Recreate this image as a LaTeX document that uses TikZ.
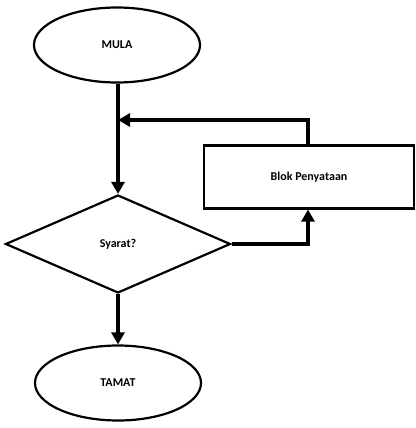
\documentclass[tikz,border=0pt]{standalone}
\usepackage{fontspec}
\setmainfont{Carlito}
\usetikzlibrary{shapes.geometric,arrows.meta}
\begin{document}
\begin{tikzpicture}[x=1pt,y=-1pt,
  every node/.style={font=\fontsize{12}{14}\selectfont\bfseries},
  term/.style={draw,line width=2.2pt,ellipse,minimum width=166pt,minimum height=75pt,inner sep=0pt},
  dec/.style={draw,line width=2.2pt,diamond,minimum width=225pt,minimum height=98pt,aspect=2.3,inner sep=0pt},
  blk/.style={draw,line width=2.2pt,rectangle,minimum width=210pt,minimum height=63pt,inner sep=0pt},
  conn/.style={line width=4pt,-{Triangle[length=12pt,width=13pt]}},
  plain/.style={line width=4pt}]
\useasboundingbox (0,0) rectangle (415,428);
\node[term] (mula) at (117,45) {MULA};
\node[dec] (syarat) at (118,244) {Syarat?};
\node[blk] (blok) at (309,177) {Blok Penyataan};
\node[term] (tamat) at (118,383) {TAMAT};
\coordinate (j) at (118,120);
\draw[plain] (mula.south -| j) -- (j);
\draw[conn] (j) -- (syarat.north);
\draw[conn] (blok.north -| 308,0) |- (j);
\draw[conn] (syarat.east) -| (308,0 |- blok.south);
\draw[conn] (syarat.south) -- (tamat.north);
\end{tikzpicture}
\end{document}
